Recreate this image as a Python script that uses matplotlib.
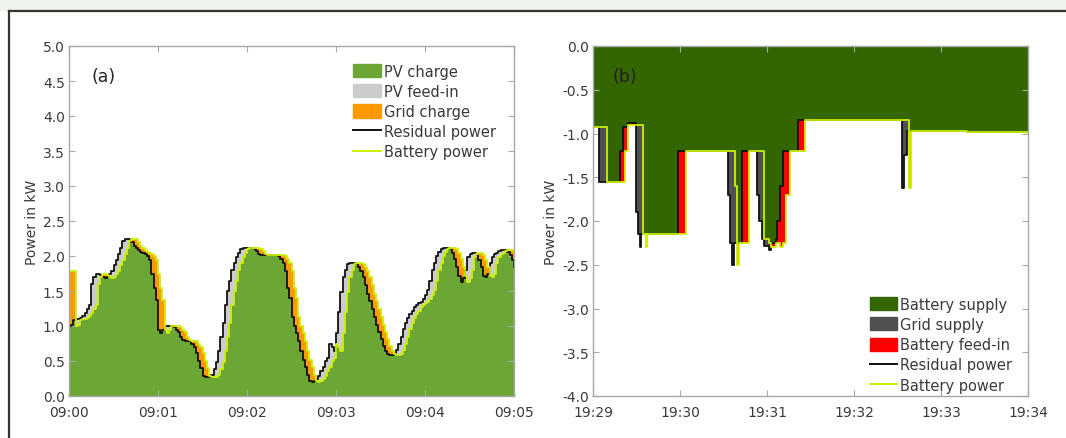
import numpy as np
import matplotlib
matplotlib.use("Agg")
import matplotlib.pyplot as plt
from matplotlib.patches import Patch, Rectangle
from matplotlib.lines import Line2D

# ---------------- data: panel (a) ----------------
t_a = [i * 0.025 for i in range(201)]  # minutes after 09:00 (1.5 s samples)
residual_a = [
    1.00, 1.02, 1.08, 1.10, 1.10, 1.12, 1.15, 1.18, 1.25, 1.30,
    1.60, 1.70, 1.75, 1.75, 1.73, 1.70, 1.68, 1.70, 1.75, 1.78,
    1.87, 1.95, 2.03, 2.12, 2.22, 2.25, 2.25, 2.25, 2.20, 2.15,
    2.11, 2.08, 2.06, 2.04, 2.03, 2.00, 1.94, 1.75, 1.55, 1.37,
    0.95, 0.90, 0.95, 1.00, 1.00, 1.00, 1.00, 0.98, 0.95, 0.92,
    0.85, 0.80, 0.79, 0.78, 0.78, 0.75, 0.70, 0.62, 0.50, 0.40,
    0.29, 0.27, 0.27, 0.27, 0.30, 0.38, 0.48, 0.65, 0.85, 1.05,
    1.30, 1.50, 1.65, 1.80, 1.90, 1.98, 2.05, 2.10, 2.12, 2.12,
    2.12, 2.12, 2.12, 2.10, 2.07, 2.03, 2.02, 2.02, 2.02, 2.02,
    2.02, 2.02, 2.02, 2.01, 2.00, 1.96, 1.90, 1.78, 1.55, 1.40,
    1.13, 1.00, 0.90, 0.79, 0.65, 0.52, 0.41, 0.30, 0.22, 0.20,
    0.22, 0.25, 0.29, 0.36, 0.42, 0.50, 0.55, 0.74, 0.70, 0.65,
    0.90, 1.20, 1.48, 1.70, 1.80, 1.88, 1.90, 1.90, 1.90, 1.89,
    1.85, 1.78, 1.70, 1.58, 1.46, 1.36, 1.25, 1.13, 1.02, 0.92,
    0.82, 0.72, 0.64, 0.60, 0.58, 0.58, 0.60, 0.66, 0.74, 0.85,
    0.96, 1.05, 1.12, 1.17, 1.22, 1.27, 1.30, 1.33, 1.35, 1.38,
    1.45, 1.52, 1.65, 1.80, 1.90, 2.00, 2.06, 2.10, 2.12, 2.12,
    2.12, 2.10, 2.05, 1.96, 1.85, 1.72, 1.63, 1.68, 1.80, 1.98,
    2.03, 2.05, 2.05, 2.02, 1.95, 1.85, 1.72, 1.70, 1.75, 1.90,
    1.98, 2.03, 2.05, 2.07, 2.08, 2.08, 2.08, 2.06, 2.02, 1.95,
    1.85]
battery_a = [
    1.78, 1.78, 1.78, 1.00, 1.02, 1.08, 1.10, 1.10, 1.12, 1.15,
    1.18, 1.25, 1.30, 1.60, 1.70, 1.75, 1.75, 1.73, 1.70, 1.68,
    1.70, 1.75, 1.78, 1.87, 1.95, 2.03, 2.12, 2.22, 2.25, 2.25,
    2.25, 2.20, 2.15, 2.11, 2.08, 2.06, 2.04, 2.03, 2.00, 1.94,
    1.75, 1.55, 1.37, 0.95, 0.90, 0.95, 1.00, 1.00, 1.00, 1.00,
    0.98, 0.95, 0.92, 0.85, 0.80, 0.79, 0.78, 0.78, 0.75, 0.70,
    0.62, 0.50, 0.40, 0.29, 0.27, 0.27, 0.27, 0.30, 0.38, 0.48,
    0.65, 0.85, 1.05, 1.30, 1.50, 1.65, 1.80, 1.90, 1.98, 2.05,
    2.10, 2.12, 2.12, 2.12, 2.12, 2.12, 2.10, 2.07, 2.03, 2.02,
    2.02, 2.02, 2.02, 2.02, 2.02, 2.02, 2.01, 2.00, 1.96, 1.90,
    1.78, 1.55, 1.40, 1.13, 1.00, 0.90, 0.79, 0.65, 0.52, 0.41,
    0.30, 0.22, 0.20, 0.22, 0.25, 0.29, 0.36, 0.42, 0.50, 0.55,
    0.74, 0.70, 0.65, 0.90, 1.20, 1.48, 1.70, 1.80, 1.88, 1.90,
    1.90, 1.90, 1.89, 1.85, 1.78, 1.70, 1.58, 1.46, 1.36, 1.25,
    1.13, 1.02, 0.92, 0.82, 0.72, 0.64, 0.60, 0.58, 0.58, 0.60,
    0.66, 0.74, 0.85, 0.96, 1.05, 1.12, 1.17, 1.22, 1.27, 1.30,
    1.33, 1.35, 1.38, 1.45, 1.52, 1.65, 1.80, 1.90, 2.00, 2.06,
    2.10, 2.12, 2.12, 2.12, 2.10, 2.05, 1.96, 1.85, 1.72, 1.63,
    1.68, 1.80, 1.98, 2.03, 2.05, 2.05, 2.02, 1.95, 1.85, 1.72,
    1.70, 1.75, 1.90, 1.98, 2.03, 2.05, 2.07, 2.08, 2.08, 2.08,
    2.06]
xticks_a = [0, 1, 2, 3, 4, 5]
xticklabels_a = ["09:00", "09:01", "09:02", "09:03", "09:04", "09:05"]
yticks_a = [0.0, 0.5, 1.0, 1.5, 2.0, 2.5, 3.0, 3.5, 4.0, 4.5, 5.0]
labels_a = ["PV charge", "PV feed-in", "Grid charge", "Residual power", "Battery power"]

# ---------------- data: panel (b) ----------------
t_b = [0.00, 0.07, 0.16, 0.31, 0.34, 0.37, 0.40, 0.45, 0.49, 0.52,
       0.54, 0.55, 0.58, 0.61, 0.62, 0.98, 1.07, 1.55, 1.58, 1.60,
       1.62, 1.63, 1.65, 1.66, 1.68, 1.71, 1.79, 1.88, 1.91, 1.94,
       1.97, 2.02, 2.05, 2.10, 2.12, 2.15, 2.18, 2.22, 2.26, 2.36,
       2.44, 3.55, 3.57, 3.61, 3.63, 3.66, 4.30, 5.00]
residual_b = [-0.93, -1.55, -1.55, -1.20, -0.93, -0.93, -0.88, -0.88, -1.90, -2.15,
              -2.30, -2.15, -2.15, -2.15, -2.15, -1.20, -1.20, -1.70, -2.25, -2.50,
              -2.25, -2.25, -2.25, -2.25, -2.25, -1.20, -1.20, -1.70, -2.00, -2.20,
              -2.28, -2.33, -2.25, -2.20, -2.00, -1.60, -1.20, -1.20, -1.20, -0.85,
              -0.85, -1.62, -1.25, -0.97, -0.97, -0.97, -0.98, -1.00]
battery_b = [-0.93, -0.93, -1.55, -1.55, -1.55, -1.20, -0.90, -0.90, -0.90, -0.90,
             -0.90, -0.90, -2.15, -2.30, -2.15, -2.15, -1.20, -1.20, -1.20, -1.20,
             -1.20, -1.60, -2.25, -2.50, -2.25, -2.25, -1.20, -1.20, -1.20, -1.20,
             -2.20, -2.25, -2.30, -2.25, -2.25, -2.30, -2.25, -1.70, -1.20, -1.20,
             -0.85, -0.85, -0.85, -0.85, -1.62, -0.97, -0.98, -1.00]
xticks_b = [0, 1, 2, 3, 4, 5]
xticklabels_b = ["19:29", "19:30", "19:31", "19:32", "19:33", "19:34"]
yticks_b = [0.0, -0.5, -1.0, -1.5, -2.0, -2.5, -3.0, -3.5, -4.0]
labels_b = ["Battery supply", "Grid supply", "Battery feed-in", "Residual power", "Battery power"]

# ---------------- style ----------------
C_PV = "#6ca634"
C_FEED = "#cccccc"
C_GRIDCH = "#ff9900"
C_BSUP = "#336600"
C_GSUP = "#505050"
C_BFEED = "#ff0000"
C_RES = "#111111"
C_BAT = "#ccf000"
SPINE = "#a8a8a8"
TXT = "#3a3a3a"

plt.rcParams["font.family"] = ["DejaVu Sans"]
fig = plt.figure(figsize=(10.66, 4.39), dpi=100)

ax_a = fig.add_axes([69 / 1066, 1 - 397 / 439, 445 / 1066, 350 / 439])
ax_b = fig.add_axes([593 / 1066, 1 - 397 / 439, 435 / 1066, 350 / 439])


def style_axes(ax, xt, xtl, yt):
    ax.set_xlim(0, 5)
    ax.set_xticks(xt)
    ax.set_xticklabels(xtl)
    ax.set_yticks(yt)
    ax.set_yticklabels(["%.1f" % v for v in yt])
    for s in ax.spines.values():
        s.set_color(SPINE)
        s.set_linewidth(1.0)
    ax.tick_params(direction="in", length=4, width=0.8, color=SPINE,
                   top=True, right=True, labelsize=10, labelcolor=TXT)
    ax.tick_params(axis="x", pad=6.5)
    ax.tick_params(axis="y", pad=3)
    ax.set_ylabel("Power in kW", fontsize=10, color=TXT, labelpad=3)


def add_legend(ax, handles, labels, anchor):
    ax.legend(handles, labels, loc="upper left", bbox_to_anchor=anchor,
              frameon=False, fontsize=10.5, handlelength=1.9, handleheight=1.0,
              handletextpad=0.2, labelspacing=0.36, borderpad=0, borderaxespad=0,
              labelcolor=TXT)


# ---- panel (a)
ta = np.array(t_a)
ra = np.array(residual_a)
ba = np.array(battery_a)
low_a = np.minimum(ra, ba)
ax_a.fill_between(ta, 0, low_a, step="post", color=C_PV, lw=0)
ax_a.fill_between(ta, low_a, ra, step="post", color=C_FEED, lw=0)
ax_a.fill_between(ta, low_a, ba, step="post", color=C_GRIDCH, lw=0)
ax_a.plot(ta, ra, drawstyle="steps-post", color=C_RES, lw=1.3)
ax_a.plot(ta, ba, drawstyle="steps-post", color=C_BAT, lw=1.3)
ax_a.set_ylim(0, 5)
style_axes(ax_a, xticks_a, xticklabels_a, yticks_a)
ax_a.text(0.05, 0.915, "(a)", transform=ax_a.transAxes, fontsize=12.5, color="#222222",
          va="center", ha="left")
handles_a = [Patch(color=C_PV), Patch(color=C_FEED), Patch(color=C_GRIDCH),
             Line2D([], [], color=C_RES, lw=1.4), Line2D([], [], color=C_BAT, lw=1.4)]
add_legend(ax_a, handles_a, labels_a, (0.638, 0.95))

# ---- panel (b)
tb = np.array(t_b)
rb = np.array(residual_b)
bb = np.array(battery_b)
high_b = np.maximum(rb, bb)
ax_b.fill_between(tb, 0, high_b, step="post", color=C_BSUP, lw=0)
ax_b.fill_between(tb, high_b, rb, step="post", color=C_GSUP, lw=0)
ax_b.fill_between(tb, high_b, bb, step="post", color=C_BFEED, lw=0)
ax_b.plot(tb, rb, drawstyle="steps-post", color=C_RES, lw=1.3)
ax_b.plot(tb, bb, drawstyle="steps-post", color=C_BAT, lw=1.3)
ax_b.set_ylim(-4, 0)
style_axes(ax_b, xticks_b, xticklabels_b, yticks_b)
ax_b.text(0.045, 0.915, "(b)", transform=ax_b.transAxes, fontsize=12.5, color="#222222",
          va="center", ha="left")
handles_b = [Patch(color=C_BSUP), Patch(color=C_GSUP), Patch(color=C_BFEED),
             Line2D([], [], color=C_RES, lw=1.4), Line2D([], [], color=C_BAT, lw=1.4)]
add_legend(ax_b, handles_b, labels_b, (0.636, 0.284))

# ---- figure frame (left and top rules) and faint header strip
fig.add_artist(Rectangle((0, 1 - 12 / 439), 1, 12 / 439, transform=fig.transFigure,
                         color="#eef4ec", lw=0, zorder=0))
fig.add_artist(Line2D([9 / 1066, 9 / 1066], [0, 1 - 12 / 439], transform=fig.transFigure,
                      color="#333333", lw=1.6))
fig.add_artist(Line2D([9 / 1066, 1], [1 - 12 / 439, 1 - 12 / 439], transform=fig.transFigure,
                      color="#333333", lw=1.6))

fig.savefig("out.png", dpi=100)
